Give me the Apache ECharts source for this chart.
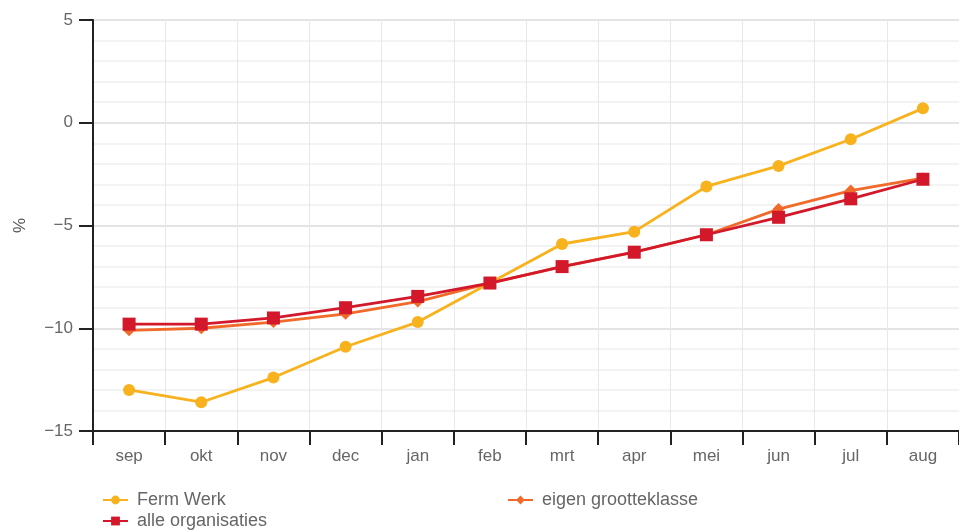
<!DOCTYPE html>
<html><head><meta charset="utf-8">
<script src="https://cdn.jsdelivr.net/npm/echarts@6/dist/echarts.min.js"></script>
<style>html,body{margin:0;padding:0;background:#fff}#c{width:959px;height:531px}</style>
</head><body><div id="c"></div>
<script>
var categories = ['sep','okt','nov','dec','jan','feb','mrt','apr','mei','jun','jul','aug'];
var fermWerk = [-13.0,-13.6,-12.4,-10.9,-9.7,-7.8,-5.9,-5.3,-3.1,-2.1,-0.8,0.7];
var eigenGrootteklasse = [-10.1,-10.0,-9.7,-9.3,-8.7,-7.8,-7.0,-6.3,-5.45,-4.2,-3.3,-2.7];
var alleOrganisaties = [-9.8,-9.8,-9.5,-9.0,-8.45,-7.8,-7.0,-6.3,-5.45,-4.6,-3.7,-2.75];
var yTicks = [-15,-10,-5,0,5];

var FONT = 'Liberation Sans, Arial, sans-serif';
var legendText = {fontFamily:FONT, fontSize:18, color:'#666', padding:[0,0,0,4]};
function lg(name, left, top){
  return {left:left, top:top, orient:'horizontal', itemWidth:25, itemHeight:11,
          textStyle:legendText, data:[name]};
}
var chart = echarts.init(document.getElementById('c'), null, {renderer:'canvas'});
chart.setOption({
  animation:false,
  backgroundColor:'#fff',
  grid:{left:93, top:20, bottom:100, width:869, containLabel:false},
  legend:[
    lg('Ferm Werk', 97, 486),
    lg('alle organisaties', 97, 507),
    lg('eigen grootteklasse', 502, 486)
  ],
  xAxis:{
    type:'category', data:categories, boundaryGap:true,
    axisLine:{onZero:false, lineStyle:{color:'#222', width:2}},
    axisTick:{show:true, length:14, lineStyle:{color:'#222', width:2}},
    axisLabel:{fontFamily:FONT, fontSize:17, color:'#666', margin:17},
    splitLine:{show:true, lineStyle:{color:'#e8e8e8', width:1}}
  },
  yAxis:{
    type:'value', min:yTicks[0], max:yTicks[yTicks.length-1], interval:5,
    name:'%', nameLocation:'middle', nameGap:64, nameRotate:90,
    nameTextStyle:{fontFamily:FONT, fontSize:17, color:'#555'},
    axisLine:{show:true, lineStyle:{color:'#222', width:2}},
    axisTick:{show:true, length:14, lineStyle:{color:'#222', width:2}},
    axisLabel:{fontFamily:FONT, fontSize:17, color:'#666', margin:20,
      formatter:function(v){return v<0 ? '\u2212'+Math.abs(v) : String(v);}},
    splitLine:{show:true, lineStyle:{color:'#e4e4e4', width:2}},
    minorTick:{show:false, splitNumber:5},
    minorSplitLine:{show:true, lineStyle:{color:'#f0f0f0', width:1.5}}
  },
  series:[
    {name:'Ferm Werk', type:'line', data:fermWerk, symbol:'circle', symbolSize:12,
     color:'#F7B21E', lineStyle:{width:2.8, color:'#F7B21E'}, itemStyle:{color:'#F7B21E'}},
    {name:'eigen grootteklasse', type:'line', data:eigenGrootteklasse, symbol:'diamond', symbolSize:12,
     color:'#F26A2A', lineStyle:{width:2.8, color:'#F26A2A'}, itemStyle:{color:'#F26A2A'}},
    {name:'alle organisaties', type:'line', data:alleOrganisaties, symbol:'rect', symbolSize:13,
     color:'#D2182A', lineStyle:{width:2.8, color:'#D2182A'}, itemStyle:{color:'#D2182A'}}
  ]
});
</script></body></html>
